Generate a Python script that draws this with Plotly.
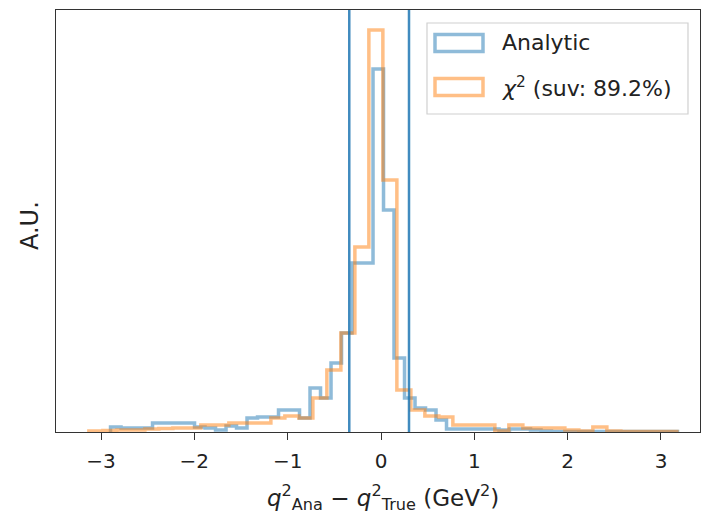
import numpy as np
import plotly.graph_objects as go

# ---------------- data ----------------
# chi2 method histogram (orange): 42 bins over this range
chi2_range = (-3.13, 3.17)
chi2_heights = [1, 1.5, 2, 2, 3, 3.5, 4, 4, 7, 7, 9, 9, 9, 14, 16, 14, 34, 62, 99, 185,
                402, 252, 42, 22, 16, 15, 7, 7, 7, 1, 7, 4, 4, 4, 2, 1, 5, 1, 0.5, 0.5,
                0.5, 0.5]
# analytic method histogram (blue): 54 bins over this range
ana_range = (-2.898, 3.177)
ana_heights = [5, 4, 4, 4, 9, 9, 9, 9, 5, 4, 2, 6, 4, 14, 15, 15, 22, 22, 14, 44,
               34, 69, 99, 169, 169, 363, 222, 74, 34, 24, 22, 12, 3, 3, 3, 3, 3, 2, 3, 3,
               2, 1, 0.5, 0.5, 0.5, 0.5, 0.5, 0.5, 0.5, 0.5, 0.5, 0.5, 0.5, 0.5]
cut_values = [-0.34, 0.30]
x_ticks = [-3, -2, -1, 0, 1, 2, 3]
x_tick_labels = ["\u22123", "\u22122", "\u22121", "0", "1", "2", "3"]
legend_labels = ["Analytic", "<i>\u03c7</i><sup>2</sup> (suv: 89.2%)"]

BLUE = "rgba(31,119,180,0.5)"
ORANGE = "rgba(255,127,14,0.5)"
FONT = "DejaVu Sans"

def step_xy(rng, heights):
    edges = np.linspace(rng[0], rng[1], len(heights) + 1)
    xs = [edges[0]] + list(edges)
    ys = [0] + list(heights) + [0]
    return xs, ys

fig = go.Figure()
for rng, h, col in [(ana_range, ana_heights, BLUE), (chi2_range, chi2_heights, ORANGE)]:
    xs, ys = step_xy(rng, h)
    fig.add_trace(go.Scatter(x=xs, y=ys, mode="lines", line=dict(color=col, width=3.5, shape="hv"),
                             showlegend=False, hoverinfo="skip"))

for c in cut_values:
    fig.add_shape(type="line", x0=c, x1=c, xref="x", y0=0, y1=1, yref="paper",
                  line=dict(color="#1f77b4", width=2.5), opacity=0.85)

# plot-area geometry (pixels)
L, R, T, B = 56, 700, 10, 432
W, H = 702, 518
def px(xp):
    return (xp - L) / (R - L)
def py(yp):
    return (B - yp) / (B - T)

# legend (matplotlib style)
fig.add_shape(type="rect", xref="paper", yref="paper", x0=px(427), x1=px(688), y0=py(114), y1=py(23),
              line=dict(color="#d0d0d0", width=1.2), fillcolor="rgba(255,255,255,0.8)")
for i, col in enumerate([BLUE, ORANGE]):
    yc = 43 + i * 44
    fig.add_shape(type="rect", xref="paper", yref="paper", x0=px(435), x1=px(483),
                  y0=py(yc + 8.5), y1=py(yc - 8.5), line=dict(color=col, width=3.5),
                  fillcolor="rgba(0,0,0,0)")
    fig.add_annotation(x=px(500), y=py(yc), xref="paper", yref="paper", text=legend_labels[i],
                       showarrow=False, xanchor="left", yanchor="middle",
                       font=dict(family=FONT, size=22, color="#222"))

# axis titles
fig.add_annotation(x=px(30), y=py(226), xref="paper", yref="paper", text="A.U.", textangle=-90,
                   showarrow=False, xanchor="center", yanchor="middle",
                   font=dict(family=FONT, size=24, color="#222"))
fig.add_annotation(x=px(383), y=py(497), xref="paper", yref="paper",
                   text="<i>q</i><sup>2</sup><sub>Ana</sub> \u2212 <i>q</i><sup>2</sup><sub>True</sub> (GeV<sup>2</sup>)",
                   showarrow=False, xanchor="center", yanchor="middle",
                   font=dict(family=FONT, size=23, color="#222"))

x_per_px = 1 / 93.33
x0 = 0 - (381 - L) * x_per_px
x1 = 0 + (R - 381) * x_per_px

fig.update_layout(
    width=W, height=H, margin=dict(l=L, r=W - R, t=T, b=H - B),
    paper_bgcolor="white", plot_bgcolor="white", showlegend=False,
    font=dict(family=FONT, color="#222"),
)
fig.update_xaxes(range=[x0, x1], tickvals=x_ticks, ticktext=x_tick_labels, ticks="outside",
                 ticklen=7, tickwidth=1.3, tickcolor="#333", showgrid=False, zeroline=False,
                 showline=True, linecolor="#333", linewidth=1.3, mirror=True,
                 ticklabelstandoff=4,
                 tickfont=dict(family=FONT, size=20, color="#222"))
fig.update_yaxes(range=[0, 422], showticklabels=False, ticks="", showgrid=False, zeroline=False,
                 showline=True, linecolor="#333", linewidth=1.3, mirror=True)

fig.write_html("out.html")
